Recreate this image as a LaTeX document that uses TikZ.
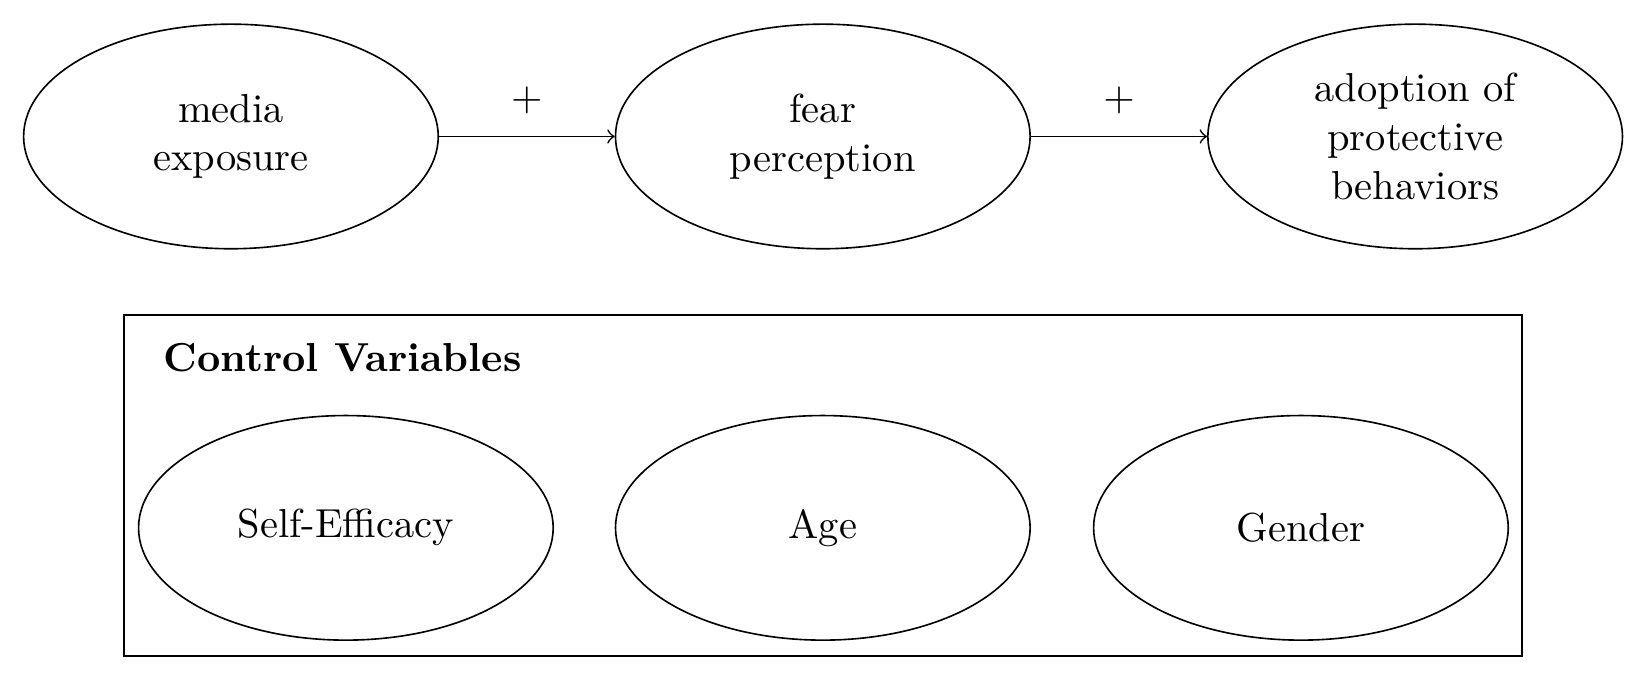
\documentclass[tikz,border=0pt]{standalone}
\usetikzlibrary{shapes.geometric}
\begin{document}
\begin{tikzpicture}[cap=round,
	varnode/.style={draw,ellipse,minimum width=3.6cm,minimum height=1.95cm,align=center,inner sep=0pt}]
		\useasboundingbox (0,0) rectangle (14.30,-5.90);
		%\draw[step=1cm,very thin,color=gray] (0,0) grid (14.3,-5.9);
		\node[varnode] (media) at (2.005,-1.185) {media\\exposure};
		\node[varnode] (fear) at (7.144,-1.185) {fear\\perception};
		\node[varnode] (adopt) at (12.287,-1.185) {adoption of\\protective\\behaviors};
		\draw[->] (media) -- (fear) node[midway,above=2pt] (plusa) {$+$};
		\draw[->] (fear) -- (adopt) node[midway,above=2pt] (plusb) {$+$};
		\draw (1.076,-2.734) rectangle (13.212,-5.694);
		\node[anchor=base west,inner sep=0pt] (ctrl) at (1.415,-3.229) {\textbf{Control Variables}};
		\node[varnode] (selfeff) at (3.003,-4.583) {Self-Efficacy};
		\node[varnode] (age) at (7.144,-4.583) {Age};
		\node[varnode] (gender) at (11.295,-4.583) {Gender};
		\end{tikzpicture}
\end{document}
